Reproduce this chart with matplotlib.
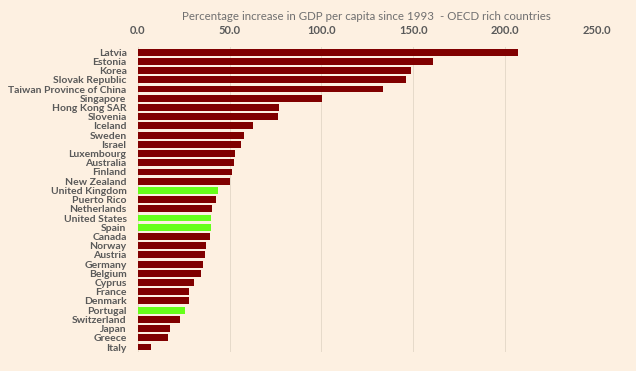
import matplotlib.pyplot as plt

countries = ["Latvia", "Estonia", "Korea", "Slovak Republic", "Taiwan Province of China",
             "Singapore", "Hong Kong SAR", "Slovenia", "Iceland", "Sweden", "Israel",
             "Luxembourg", "Australia", "Finland", "New Zealand", "United Kingdom",
             "Puerto Rico", "Netherlands", "United States", "Spain", "Canada", "Norway",
             "Austria", "Germany", "Belgium", "Cyprus", "France", "Denmark", "Portugal",
             "Switzerland", "Japan", "Greece", "Italy"]
growth = [207.2, 160.7, 148.9, 146.0, 133.5, 100.5, 77.0, 76.4, 62.7, 58.1, 56.1,
          53.1, 52.3, 51.6, 50.5, 43.8, 42.6, 40.4, 40.0, 39.8, 39.1, 37.1,
          36.7, 35.7, 34.6, 30.4, 28.0, 27.7, 25.5, 23.2, 17.6, 16.5, 7.1]
highlight = ["United Kingdom", "United States", "Spain", "Portugal"]
ticks = [0, 50, 100, 150, 200, 250]

bg = "#FDF0E1"
grey = "#595959"
colors = ["#66FF1A" if c in highlight else "#800000" for c in countries]

fig = plt.figure(figsize=(6.36, 3.71), dpi=100, facecolor=bg)
ax = fig.add_axes([0.2165, 0.051, 0.722, 0.822], facecolor=bg)

pos = list(range(len(countries)))
ax.barh(pos, growth, height=0.75, color=colors, zorder=3)
ax.set_ylim(len(countries) - 0.45, -0.55)
ax.set_xlim(0, 250)

ax.set_xticks(ticks)
ax.set_xticklabels(["%.1f" % t for t in ticks], fontsize=8, fontweight="bold",
                   color=grey, family=["Lato", "DejaVu Sans"])
ax.xaxis.tick_top()
ax.tick_params(axis="x", length=0, pad=8)
ax.set_yticks(pos)
ax.set_yticklabels(countries, fontsize=7.5, fontweight="bold", color=grey,
                   family=["Lato", "DejaVu Sans"])
ax.tick_params(axis="y", length=0, pad=8)

ax.grid(axis="x", color="#E6DACA", linewidth=0.7, zorder=0)
for s in ax.spines.values():
    s.set_visible(False)

fig.text(0.576, 0.955, "Percentage increase in GDP per capita since 1993  - OECD rich countries",
         ha="center", va="center", fontsize=8.3, color="#707070", family=["Lato", "DejaVu Sans"])

fig.savefig("out.png", dpi=100, facecolor=bg)
